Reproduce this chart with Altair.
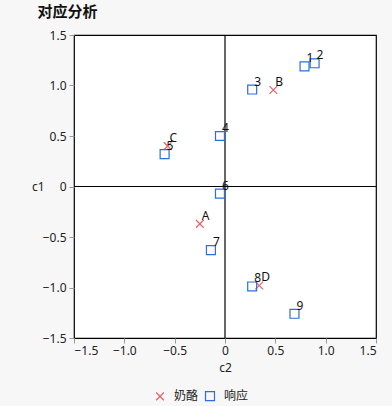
import altair as alt
import pandas as pd

labels = ["A", "B", "C", "D", "1", "2", "3", "4", "5", "6", "7", "8", "9"]
kinds = ["奶酪"] * 4 + ["响应"] * 9
c2 = [-0.25, 0.48, -0.57, 0.34, 0.79, 0.89, 0.27, -0.05, -0.60, -0.05, -0.14, 0.27, 0.69]
c1 = [-0.37, 0.955, 0.40, -0.98, 1.19, 1.22, 0.96, 0.50, 0.32, -0.07, -0.63, -0.99, -1.26]
ticks = [-1.5, -1.0, -0.5, 0, 0.5, 1.0, 1.5]
ref = [0]

df = pd.DataFrame({"label": labels, "kind": kinds, "c2": c2, "c1": c1})
FONT = "Noto Sans, Noto Sans CJK SC"
XPATH = "M -1 -1 L 1 1 M -1 1 L 1 -1"

fmt_expr = "datum.value == 0 ? '0' : format(datum.value, '.1f')"
xscale = alt.Scale(domain=[-1.5, 1.5], nice=False, zero=False)
yscale = alt.Scale(domain=[-1.5, 1.5], nice=False, zero=False)

xaxis = alt.Axis(values=ticks, labelExpr=fmt_expr, grid=False, domain=False,
                 tickColor="#999999", tickSize=5, labelColor="#222222",
                 labelFontSize=12, labelFont=FONT, title="c2", titleFont=FONT,
                 titleFontSize=12, titleFontWeight="normal", titleColor="#222222",
                 titlePadding=6, labelPadding=2)
yaxis = alt.Axis(values=ticks, labelExpr=fmt_expr, grid=False, domain=False,
                 tickColor="#999999", tickSize=5, labelColor="#222222",
                 labelFontSize=12, labelFont=FONT, title="c1", titleFont=FONT,
                 titleFontSize=12, titleFontWeight="normal", titleColor="#222222",
                 titleAngle=0, titleAlign="right", titleBaseline="middle",
                 titleX=-30, titleY=151, labelPadding=3)

base = alt.Chart(df)

vline = alt.Chart(pd.DataFrame({"v": ref})).mark_rule(color="black", strokeWidth=1.2).encode(
    x=alt.X("v:Q", scale=xscale, axis=xaxis))
hline = alt.Chart(pd.DataFrame({"v": ref})).mark_rule(color="black", strokeWidth=1.2).encode(
    y=alt.Y("v:Q", scale=yscale, axis=yaxis))

legend = alt.Legend(title=None, orient="none", direction="horizontal",
                    legendX=80, legendY=355,
                    labelFont=FONT, labelFontSize=12, labelColor="#222222",
                    symbolSize=80, symbolStrokeWidth=1.2, columnPadding=4, labelOffset=8)

pts = base.mark_point(filled=False, strokeWidth=1.2, opacity=1).encode(
    x=alt.X("c2:Q", scale=xscale, axis=xaxis),
    y=alt.Y("c1:Q", scale=yscale, axis=yaxis),
    shape=alt.Shape("kind:N", scale=alt.Scale(domain=["奶酪", "响应"], range=[XPATH, "square"]),
                    legend=legend),
    color=alt.Color("kind:N", scale=alt.Scale(domain=["奶酪", "响应"], range=["#e8606a", "#2a6ee8"]),
                    legend=legend),
    size=alt.Size("kind:N", scale=alt.Scale(domain=["奶酪", "响应"], range=[60, 80]), legend=None),
)

txt = base.mark_text(align="left", baseline="alphabetic", dx=2, dy=-4, fontSize=12,
                     font=FONT, color="#111111").encode(
    x=alt.X("c2:Q", scale=xscale, axis=xaxis),
    y=alt.Y("c1:Q", scale=yscale, axis=yaxis),
    text="label:N")

chart = alt.layer(vline, hline, pts, txt).properties(
    width=302, height=303,
    title=alt.TitleParams("对应分析", anchor="start", font="Noto Sans CJK SC", fontSize=15,
                          fontWeight="bold", color="#111111", dx=6, offset=9),
    autosize=alt.AutoSizeParams(type="none"),
    padding={"left": 74, "top": 35, "right": 16, "bottom": 68},
    background="#f7f7f7",
).configure_view(fill="white", stroke="black", strokeWidth=1.2)

chart.save("out.html", embed_options={"renderer": "svg", "actions": False})
